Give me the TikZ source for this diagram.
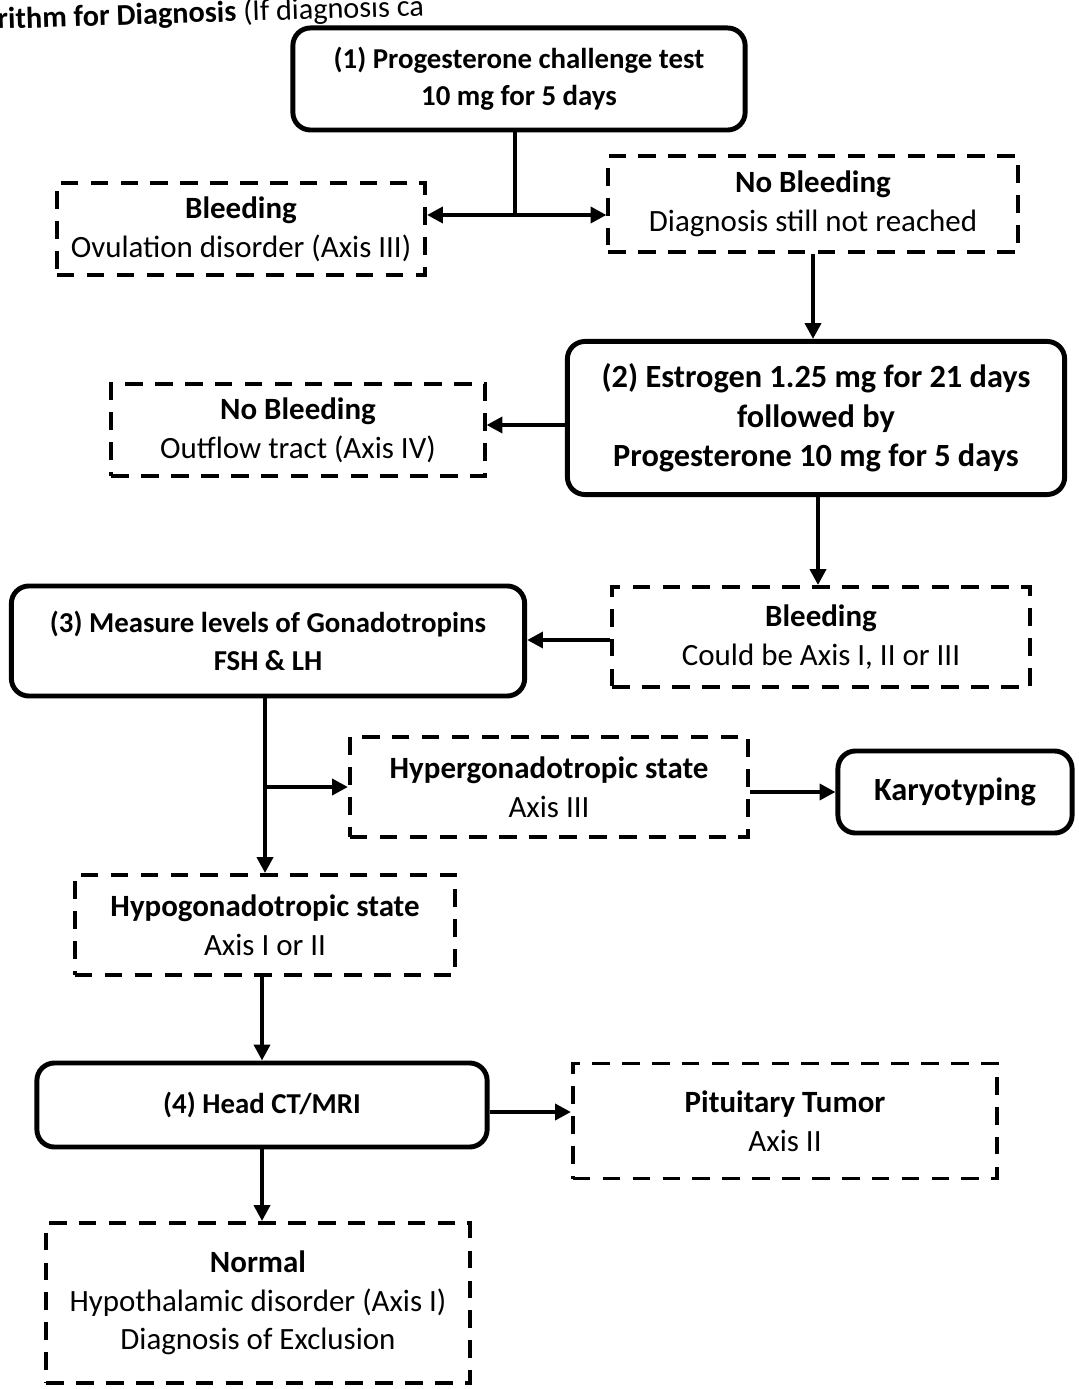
\documentclass[tikz,border=0pt]{standalone}
\usepackage{fontspec}
\setmainfont{Carlito}
\usepackage{tikz}
\usetikzlibrary{calc, arrows.meta}

\tikzset{
    solidbox/.style={draw, line width=1.4pt, rounded corners=5pt, align=center,
        font=\fontsize{8.2}{10.6}\selectfont\bfseries, inner sep=2pt},
    bigtext/.style={font=\fontsize{9.2}{11.2}\selectfont\bfseries},
    dashbox/.style={draw, line width=1.1pt, dash pattern=on 5pt off 3.5pt,
        align=center, inner sep=2pt},
    flow/.style={line width=1.1pt, -{Triangle[length=4.5pt,width=4.5pt]}},
}

\begin{document}
\begin{tikzpicture}[x=0.01cm, y=-0.01cm, font=\fontsize{8.8}{11}\selectfont]
        % page frame
        \useasboundingbox (0,0) rectangle (1078,1389);
        \clip (0,0) rectangle (1078,1389);

        % title (cut off by the page)
        \node (Title) [anchor=base west, inner sep=0pt, rotate=1.8,
            font=\fontsize{8.6}{10}\selectfont] at (-3,29)
            {\textbf{rithm for Diagnosis} (If diagnosis ca};

        % define step 1
        \coordinate (Test1_C) at (519,79);
        \node (Test1) at (Test1_C) [solidbox, minimum width=4.52cm, minimum height=1.02cm]
            {(1) Progesterone challenge test\\10 mg for 5 days};

        \coordinate (Bleed1_C) at (241,229);
        \node (Bleed1) at (Bleed1_C) [dashbox, minimum width=3.68cm, minimum height=0.92cm]
            {\textbf{Bleeding}\\Ovulation disorder (Axis III)};

        \coordinate (NoBleed1_C) at (813,204);
        \node (NoBleed1) at (NoBleed1_C) [dashbox, minimum width=4.09cm, minimum height=0.96cm]
            {\textbf{No Bleeding}\\Diagnosis still not reached};

        % split after step 1
        \coordinate (Split1) at (515,215);
        \draw[line width=1.1pt] (Test1.south -| Split1) -- (Split1);
        \draw[flow, {Triangle[length=4.5pt,width=4.5pt]}-{Triangle[length=4.5pt,width=4.5pt]}]
            (Bleed1.east |- Split1) -- (NoBleed1.west |- Split1);

        % define step 2
        \coordinate (Test2_C) at (816,418);
        \node (Test2) at (Test2_C) [solidbox, bigtext, minimum width=4.97cm, minimum height=1.53cm]
            {(2) Estrogen 1.25 mg for 21 days\\followed by\\Progesterone 10 mg for 5 days};

        \draw[flow] (NoBleed1.south) -- (NoBleed1.south |- Test2.north);

        \coordinate (NoBleed2_C) at (298,430);
        \node (NoBleed2) at (NoBleed2_C) [dashbox, minimum width=3.73cm, minimum height=0.92cm]
            {\textbf{No Bleeding}\\Outflow tract (Axis IV)};

        \draw[flow] (Test2.west |- 0,425) -- (NoBleed2.east |- 0,425);

        \coordinate (Bleed2_C) at (821,637);
        \node (Bleed2) at (Bleed2_C) [dashbox, minimum width=4.17cm, minimum height=1.00cm]
            {\textbf{Bleeding}\\Could be Axis I, II or III};

        \draw[flow] (Test2.south -| 818,0) -- (Bleed2.north -| 818,0);

        % define step 3
        \coordinate (Test3_C) at (268,641);
        \node (Test3) at (Test3_C) [solidbox, minimum width=5.13cm, minimum height=1.10cm]
            {(3) Measure levels of Gonadotropins\\FSH \& LH};

        \draw[flow] (Bleed2.west |- 0,640) -- (Test3.east |- 0,640);

        \coordinate (Hyper_C) at (549,787);
        \node (Hyper) at (Hyper_C) [dashbox, minimum width=3.98cm, minimum height=1.00cm]
            {\textbf{Hypergonadotropic state}\\Axis III};

        \coordinate (Karyo_C) at (955,792);
        \node (Karyo) at (Karyo_C) [solidbox, bigtext, minimum width=2.34cm, minimum height=0.82cm]
            {Karyotyping};

        \draw[flow] (Hyper.east |- Karyo) -- (Karyo.west);

        \coordinate (Hypo_C) at (265,925);
        \node (Hypo) at (Hypo_C) [dashbox, minimum width=3.80cm, minimum height=1.00cm]
            {\textbf{Hypogonadotropic state}\\Axis I or II};

        % split after step 3
        \coordinate (Split3) at (265,787);
        \draw[flow] (Test3.south -| Hypo) -- (Hypo.north);
        \draw[flow] (Split3) -- (Hyper.west |- Split3);

        % define step 4
        \coordinate (Test4_C) at (262,1105);
        \node (Test4) at (Test4_C) [solidbox, minimum width=4.50cm, minimum height=0.84cm]
            {(4) Head CT/MRI};

        \draw[flow] (Hypo.south -| Test4) -- (Test4.north);

        \coordinate (Tumor_C) at (785,1121);
        \node (Tumor) at (Tumor_C) [dashbox, minimum width=4.24cm, minimum height=1.15cm]
            {\textbf{Pituitary Tumor}\\Axis II};

        \draw[flow] (Test4.east |- 0,1112) -- (Tumor.west |- 0,1112);

        \coordinate (Normal_C) at (258,1303);
        \node (Normal) at (Normal_C) [dashbox, minimum width=4.23cm, minimum height=1.60cm]
            {\textbf{Normal}\\Hypothalamic disorder (Axis I)\\Diagnosis of Exclusion};

        \draw[flow] (Test4.south) -- (Test4.south |- Normal.north);
\end{tikzpicture}
\end{document}
